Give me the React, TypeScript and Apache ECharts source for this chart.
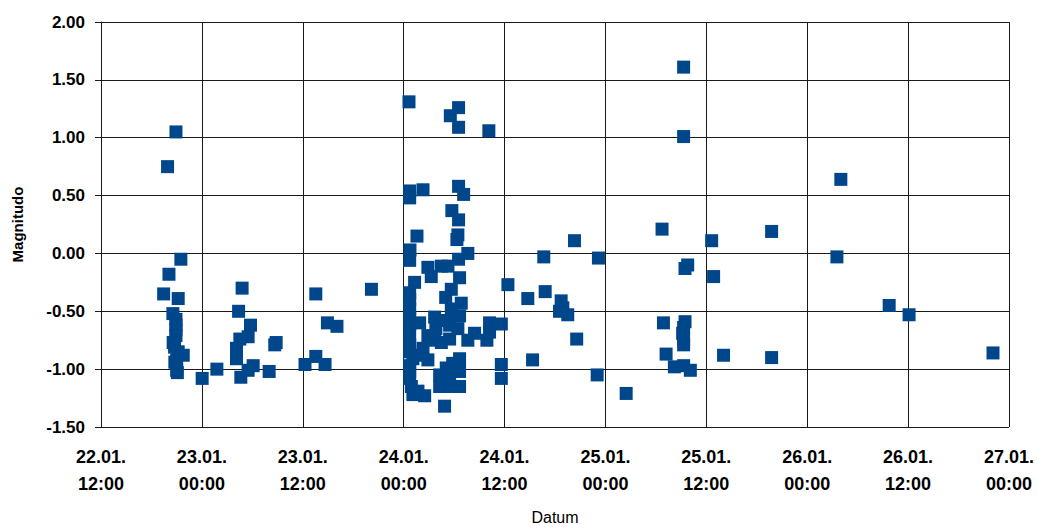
import React, { useEffect, useRef } from "react";
import * as echarts from "echarts";

// Observation times (UTC) and magnitudes
const times: string[] = [
  "2010-01-22T19:55", "2010-01-22T20:55", "2010-01-22T21:30", "2010-01-22T20:05", "2010-01-22T19:27",
  "2010-01-22T21:11", "2010-01-22T20:33", "2010-01-22T20:55", "2010-01-22T20:55", "2010-01-22T20:55",
  "2010-01-22T20:55", "2010-01-22T20:35", "2010-01-22T20:45", "2010-01-22T21:11", "2010-01-22T21:47",
  "2010-01-22T21:00", "2010-01-22T20:47", "2010-01-22T21:00", "2010-01-22T21:05",
  "2010-01-23T00:02", "2010-01-23T01:47", "2010-01-23T04:47", "2010-01-23T04:22", "2010-01-23T05:47",
  "2010-01-23T05:30", "2010-01-23T04:31", "2010-01-23T04:07", "2010-01-23T04:07", "2010-01-23T06:06",
  "2010-01-23T05:30", "2010-01-23T04:38", "2010-01-23T08:00", "2010-01-23T08:50", "2010-01-23T08:40",
  "2010-01-23T13:33", "2010-01-23T20:10", "2010-01-23T14:56", "2010-01-23T16:04", "2010-01-23T13:33",
  "2010-01-23T12:16", "2010-01-23T14:39",
  "2010-01-24T00:38", "2010-01-24T06:32", "2010-01-24T05:33", "2010-01-24T06:32", "2010-01-24T10:08",
  "2010-01-24T00:43", "2010-01-24T02:18", "2010-01-24T00:43", "2010-01-24T06:32", "2010-01-24T07:08",
  "2010-01-24T05:44", "2010-01-24T06:32", "2010-01-24T01:35", "2010-01-24T06:27", "2010-01-24T06:20",
  "2010-01-24T00:45", "2010-01-24T00:43", "2010-01-24T07:38", "2010-01-24T06:32", "2010-01-24T02:53",
  "2010-01-24T04:29", "2010-01-24T05:16", "2010-01-24T03:17", "2010-01-24T06:39", "2010-01-24T05:40",
  "2010-01-24T01:18", "2010-01-24T12:24", "2010-01-24T14:46", "2010-01-24T00:43", "2010-01-24T00:43",
  "2010-01-24T00:43", "2010-01-24T06:51", "2010-01-24T05:40", "2010-01-24T06:39", "2010-01-24T03:41",
  "2010-01-24T00:43", "2010-01-24T00:43", "2010-01-24T01:54", "2010-01-24T10:13", "2010-01-24T11:37",
  "2010-01-24T05:28", "2010-01-24T06:27", "2010-01-24T05:00", "2010-01-24T05:10", "2010-01-24T04:15",
  "2010-01-24T03:50", "2010-01-24T02:53", "2010-01-24T00:43", "2010-01-24T08:26", "2010-01-24T07:38",
  "2010-01-24T09:54", "2010-01-24T10:13", "2010-01-24T04:29", "2010-01-24T05:28", "2010-01-24T03:41",
  "2010-01-24T00:43", "2010-01-24T02:18", "2010-01-24T00:43", "2010-01-24T01:54", "2010-01-24T01:06",
  "2010-01-24T02:53", "2010-01-24T06:39", "2010-01-24T05:50", "2010-01-24T11:37", "2010-01-24T15:20",
  "2010-01-24T00:43", "2010-01-24T00:43", "2010-01-24T05:04", "2010-01-24T06:39", "2010-01-24T05:28",
  "2010-01-24T04:17", "2010-01-24T00:43", "2010-01-24T11:37", "2010-01-24T04:17", "2010-01-24T05:28",
  "2010-01-24T06:39", "2010-01-24T00:55", "2010-01-24T01:42", "2010-01-24T02:30", "2010-01-24T01:06",
  "2010-01-24T04:52", "2010-01-24T20:19", "2010-01-24T16:40", "2010-01-24T23:10", "2010-01-24T16:50",
  "2010-01-24T18:44", "2010-01-24T18:56", "2010-01-24T18:32", "2010-01-24T19:31", "2010-01-24T20:35",
  "2010-01-24T23:01",
  "2010-01-25T06:44", "2010-01-25T12:38", "2010-01-25T09:47", "2010-01-25T09:28", "2010-01-25T12:52",
  "2010-01-25T06:54", "2010-01-25T09:28", "2010-01-25T09:11", "2010-01-25T09:18", "2010-01-25T07:13",
  "2010-01-25T14:03", "2010-01-25T08:12", "2010-01-25T09:18", "2010-01-25T10:06", "2010-01-25T02:28",
  "2010-01-25T09:18", "2010-01-25T09:18", "2010-01-25T19:46", "2010-01-25T19:46", "2010-01-25T09:18",
  "2010-01-25T09:18",
  "2010-01-26T04:00", "2010-01-26T03:32", "2010-01-26T09:45", "2010-01-26T12:07", "2010-01-26T22:06",
];

const magnitudes: number[] = [
  0.75, 1.05, -0.05, -0.18, -0.35,
  -0.39, -0.52, -0.57, -0.62, -0.66,
  -0.71, -0.77, -0.81, -0.85, -0.88,
  -0.92, -0.94, -1.01, -1.03,
  -1.08, -1.0, -0.3, -0.5, -0.62,
  -0.72, -0.74, -0.82, -0.91, -0.97,
  -1.01, -1.07, -1.02, -0.77, -0.79,
  -0.35, -0.31, -0.6, -0.63, -0.89,
  -0.96, -0.96,
  1.31, 1.26, 1.19, 1.09, 1.06,
  0.54, 0.55, 0.48, 0.58, 0.51,
  0.37, 0.29, 0.15, 0.16, 0.12,
  0.03, -0.06, 0.0, -0.05, -0.12,
  -0.11, -0.11, -0.2, -0.21, -0.31,
  -0.25, -0.27, -0.39, -0.34, -0.4,
  -0.48, -0.43, -0.48, -0.54, -0.55,
  -0.55, -0.61, -0.6, -0.6, -0.61,
  -0.62, -0.65, -0.38, -0.58, -0.58,
  -0.65, -0.71, -0.71, -0.69, -0.75,
  -0.75, -0.68, -0.77, -0.74, -0.75,
  -0.79, -0.82, -0.85, -0.88, -0.91,
  -0.92, -0.91, -0.95, -0.96, -0.92,
  -0.97, -1.02, -0.99, -1.02, -1.05,
  -1.05, -1.08, -1.08, -1.15, -1.15,
  -1.15, -1.15, -1.19, -1.23, -1.22,
  -1.32, 0.11, -0.03, -0.04, -0.33,
  -0.41, -0.47, -0.5, -0.53, -0.74,
  -1.05,
  0.21, 0.11, -0.1, -0.13, -0.2,
  -0.6, -0.59, -0.69, -0.79, -0.87,
  -0.88, -0.98, -0.97, -1.01, -1.21,
  1.61, 1.01, 0.19, -0.9, -0.64,
  -0.74,
  0.64, -0.03, -0.45, -0.53, -0.86,
];

const xStart = "2010-01-22T12:00";
const xEnd = "2010-01-27T00:00";
const yTicks: number[] = [-1.5, -1.0, -0.5, 0.0, 0.5, 1.0, 1.5, 2.0];

const toMs = (s: string) => Date.parse(s + ":00Z");
const pad = (n: number) => (n < 10 ? "0" + n : "" + n);

export default function App() {
  const ref = useRef<HTMLDivElement>(null);

  useEffect(() => {
    if (!ref.current) return;
    const chart = echarts.init(ref.current, undefined, { renderer: "svg" });
    const data = times.map((t, i) => [toMs(t), magnitudes[i]]);
    const lineColor = "#1a1a1a";
    chart.setOption({
      animation: false,
      backgroundColor: "#ffffff",
      grid: { left: 101, right: 27, top: 22, bottom: 97, containLabel: false },
      xAxis: {
        type: "value",
        min: toMs(xStart),
        max: toMs(xEnd),
        interval: 12 * 3600 * 1000,
        name: "Datum",
        nameLocation: "middle",
        nameGap: 82,
        nameTextStyle: { fontFamily: "Liberation Sans, Arial, sans-serif", fontSize: 16, color: "#000" },
        axisLine: { show: true, lineStyle: { color: lineColor, width: 1 } },
        axisTick: { show: true, length: 6, lineStyle: { color: lineColor } },
        splitLine: { show: true, lineStyle: { color: lineColor, width: 1 } },
        axisLabel: {
          margin: 16,
          lineHeight: 27,
          fontFamily: "Liberation Sans, Arial, sans-serif",
          fontWeight: "bold",
          fontSize: 18,
          color: "#000",
          formatter: (v: number) => {
            const d = new Date(v);
            return `${pad(d.getUTCDate())}.${pad(d.getUTCMonth() + 1)}.\n${pad(d.getUTCHours())}:${pad(d.getUTCMinutes())}`;
          },
        },
      },
      yAxis: {
        type: "value",
        min: yTicks[0],
        max: yTicks[yTicks.length - 1],
        interval: 0.5,
        name: "Magnitudo",
        nameLocation: "middle",
        nameRotate: 90,
        nameGap: 76,
        nameTextStyle: { fontFamily: "Liberation Sans, Arial, sans-serif", fontSize: 15, fontWeight: "bold", color: "#000" },
        axisLine: { show: true, lineStyle: { color: lineColor, width: 1 } },
        axisTick: { show: true, length: 6, lineStyle: { color: lineColor } },
        splitLine: { show: true, lineStyle: { color: lineColor, width: 1 } },
        axisLabel: {
          margin: 16,
          fontFamily: "Liberation Sans, Arial, sans-serif",
          fontWeight: "bold",
          fontSize: 17,
          color: "#000",
          formatter: (v: number) => v.toFixed(2),
        },
      },
      series: [
        {
          type: "scatter",
          data,
          symbol: "rect",
          symbolSize: 13,
          itemStyle: { color: "#00468b", opacity: 1 },
        },
      ],
    });
    return () => chart.dispose();
  }, []);

  return (
    <div
      ref={ref}
      style={{ position: "fixed", left: 0, top: 0, width: 1037, height: 530 }}
    />
  );
}
